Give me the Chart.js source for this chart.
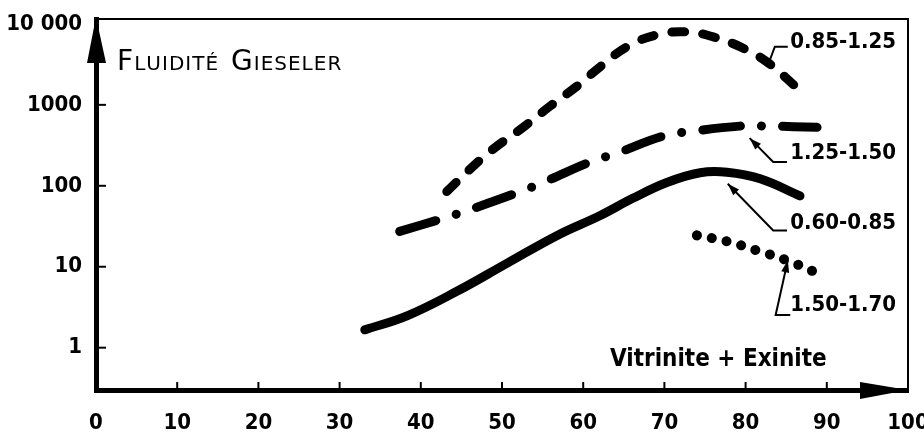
<!DOCTYPE html>
<html>
<head>
<meta charset="utf-8">
<script src="https://cdn.jsdelivr.net/npm/chart.js@4/dist/chart.umd.min.js"></script>
<style>
  body { margin: 0; background: #fff; }
  canvas { display: block; }
</style>
</head>
<body>
<canvas id="fluidityChart" width="924" height="436"></canvas>
<script>
// x = Vitrinite + Exinite (%), y = Gieseler fluidity (log scale)
const xTicks = [0, 10, 20, 30, 40, 50, 60, 70, 80, 90, 100];
const yTicks = [1, 10, 100, 1000, 10000];

// 0.85-1.25 (dashed)
const xA = [43.2, 46.1, 48.9, 52.6, 55.9, 59.2, 62.1, 65.4, 69.1, 72.8, 76.0, 79.3, 82.6, 86.3];
const yA = [85, 162, 284, 528, 960, 1690, 2960, 5230, 7350, 7970, 6920, 5230, 3410, 1640];

// 1.25-1.50 (dash-dot)
const xB = [37.4, 42.7, 46.4, 52.2, 55.5, 60.8, 64.5, 69.8, 73.5, 79.3, 83.0, 88.8];
const yB = [27.3, 39.4, 52.2, 84.4, 115, 196, 261, 410, 472, 546, 546, 528];

// 0.60-0.85 (solid)
const xC = [33.1, 38.3, 44.5, 50.6, 56.8, 62.1, 66.1, 70.3, 74.4, 77.7, 81.8, 86.7];
const yC = [1.66, 2.47, 5.0, 11.0, 24.4, 43, 70, 110, 145, 147, 122, 75];

// 1.50-1.70 (dotted)
const xD = [74.0, 77.7, 81.4, 85.1, 88.3];
const yD = [24.4, 20.6, 15.9, 12.0, 8.8];

const seriesLabels = ['0.85-1.25', '1.25-1.50', '0.60-0.85', '1.50-1.70'];
// label anchor (left edge, middle) in data units
const labelX = [85.5, 85.5, 85.5, 85.5];
const labelY = [6010, 254, 34.2, 3.37];
// leader lines: [from text, elbow, tip]
const leaders = [
  [[85.2, 5220], [83.6, 5220], [83.0, 3610]],
  [[85.1, 197], [83.4, 197], [80.5, 388]],
  [[85.1, 28.1], [83.4, 28.1], [77.8, 106]],
  [[85.5, 2.54], [83.7, 2.54], [85.2, 12.0]]
];

function pts(xs, ys) {
  return xs.map((x, i) => ({ x: x, y: ys[i] }));
}

function spaced(ctx, text, x, y, gap) {
  for (const ch of text) {
    ctx.fillText(ch, x, y);
    x += ctx.measureText(ch).width + gap;
  }
  return x;
}

const decor = {
  id: 'decor',
  afterDraw(chart) {
    const ctx = chart.ctx;
    const a = chart.chartArea;
    const xs = chart.scales.x, ys = chart.scales.y;
    ctx.save();
    ctx.fillStyle = '#000';
    ctx.strokeStyle = '#000';

    // frame top and right
    ctx.lineWidth = 2;
    ctx.beginPath();
    ctx.moveTo(a.left, a.top);
    ctx.lineTo(a.right, a.top);
    ctx.lineTo(a.right, a.bottom);
    ctx.stroke();

    // inward tick marks
    yTicks.slice(0, -1).forEach(v => {
      const py = ys.getPixelForValue(v);
      ctx.beginPath();
      ctx.moveTo(a.left, py);
      ctx.lineTo(a.left + 10, py);
      ctx.stroke();
    });
    xTicks.slice(1, -1).forEach(v => {
      const px = xs.getPixelForValue(v);
      ctx.beginPath();
      ctx.moveTo(px, a.bottom);
      ctx.lineTo(px, a.bottom - 8);
      ctx.stroke();
    });

    // axis arrows
    ctx.beginPath();
    ctx.moveTo(a.left, a.top - 2);
    ctx.lineTo(a.left - 9, a.top + 44);
    ctx.lineTo(a.left + 10, a.top + 44);
    ctx.closePath();
    ctx.fill();
    ctx.beginPath();
    ctx.moveTo(a.right, a.bottom);
    ctx.lineTo(a.right - 48, a.bottom - 8);
    ctx.lineTo(a.right - 48, a.bottom + 9);
    ctx.closePath();
    ctx.fill();

    // series labels and leaders
    ctx.font = "bold 22px 'DejaVu Sans Condensed'";
    ctx.textBaseline = 'middle';
    ctx.textAlign = 'left';
    seriesLabels.forEach((t, i) => {
      ctx.fillText(t, xs.getPixelForValue(labelX[i]), ys.getPixelForValue(labelY[i]));
      const p = leaders[i].map(q => [xs.getPixelForValue(q[0]), ys.getPixelForValue(q[1])]);
      ctx.lineWidth = 2;
      ctx.beginPath();
      ctx.moveTo(p[0][0], p[0][1]);
      ctx.lineTo(p[1][0], p[1][1]);
      ctx.lineTo(p[2][0], p[2][1]);
      ctx.stroke();
      if (i > 0) {
        const ang = Math.atan2(p[2][1] - p[1][1], p[2][0] - p[1][0]);
        ctx.beginPath();
        ctx.moveTo(p[2][0], p[2][1]);
        ctx.lineTo(p[2][0] - 12 * Math.cos(ang) + 4 * Math.sin(ang), p[2][1] - 12 * Math.sin(ang) - 4 * Math.cos(ang));
        ctx.lineTo(p[2][0] - 12 * Math.cos(ang) - 4 * Math.sin(ang), p[2][1] - 12 * Math.sin(ang) + 4 * Math.cos(ang));
        ctx.closePath();
        ctx.fill();
      }
    });

    // axis titles, small caps drawn by hand
    let px = xs.getPixelForValue(2.6);
    const base = ys.getPixelForValue(3610) + 10;
    ctx.textBaseline = 'alphabetic';
    [['F', 'LUIDITÉ'], ['G', 'IESELER']].forEach(w => {
      ctx.font = "28px 'DejaVu Sans'";
      px = spaced(ctx, w[0], px, base, 1);
      ctx.font = "20px 'DejaVu Sans'";
      px = spaced(ctx, w[1], px, base, 1) + 12;
    });

    ctx.font = "bold 24px 'DejaVu Sans Condensed'";
    ctx.textBaseline = 'middle';
    ctx.fillText('Vitrinite + Exinite', xs.getPixelForValue(63.3), ys.getPixelForValue(0.71));
    ctx.restore();
  }
};

const ctx = document.getElementById('fluidityChart').getContext('2d');
new Chart(ctx, {
  type: 'line',
  data: {
    datasets: [
      {
        label: seriesLabels[0],
        data: pts(xA, yA),
        borderColor: '#000',
        borderWidth: 9,
        borderCapStyle: 'round',
        borderDash: [13, 18],
        tension: 0.4
      },
      {
        label: seriesLabels[1],
        data: pts(xB, yB),
        borderColor: '#000',
        borderWidth: 9,
        borderCapStyle: 'round',
        borderDash: [38, 21, 0.1, 21],
        tension: 0.4
      },
      {
        label: seriesLabels[2],
        data: pts(xC, yC),
        borderColor: '#000',
        borderWidth: 9,
        borderCapStyle: 'round',
        tension: 0.4
      },
      {
        label: seriesLabels[3],
        data: pts(xD, yD),
        borderColor: '#000',
        borderWidth: 10,
        borderCapStyle: 'round',
        borderDash: [0.1, 15],
        tension: 0.4
      }
    ]
  },
  options: {
    responsive: false,
    animation: false,
    events: [],
    layout: { padding: { top: 19, right: 16, left: 0, bottom: 0 } },
    elements: { point: { radius: 0 } },
    plugins: {
      legend: { display: false },
      tooltip: { enabled: false }
    },
    scales: {
      x: {
        type: 'linear',
        min: 0,
        max: 100,
        afterFit: s => { s.height = 46; s.paddingLeft = 0; s.paddingRight = 0; },
        afterBuildTicks: s => { s.ticks = xTicks.map(v => ({ value: v })); },
        grid: { display: false, drawTicks: false },
        border: { display: true, color: '#000', width: 5 },
        ticks: {
          color: '#000',
          padding: 20,
          font: { family: "'DejaVu Sans Condensed'", weight: 'bold', size: 22 }
        }
      },
      y: {
        type: 'logarithmic',
        min: 0.32,
        max: 11500,
        afterFit: s => { s.width = 96; s.paddingTop = 0; s.paddingBottom = 0; },
        afterBuildTicks: s => { s.ticks = yTicks.map(v => ({ value: v })); },
        grid: { display: false, drawTicks: false },
        border: { display: true, color: '#000', width: 5 },
        ticks: {
          color: '#000',
          padding: 14,
          font: { family: "'DejaVu Sans Condensed'", weight: 'bold', size: 22 },
          callback: v => v === 10000 ? '10 000' : String(v)
        }
      }
    }
  },
  plugins: [decor]
});
</script>
</body>
</html>
